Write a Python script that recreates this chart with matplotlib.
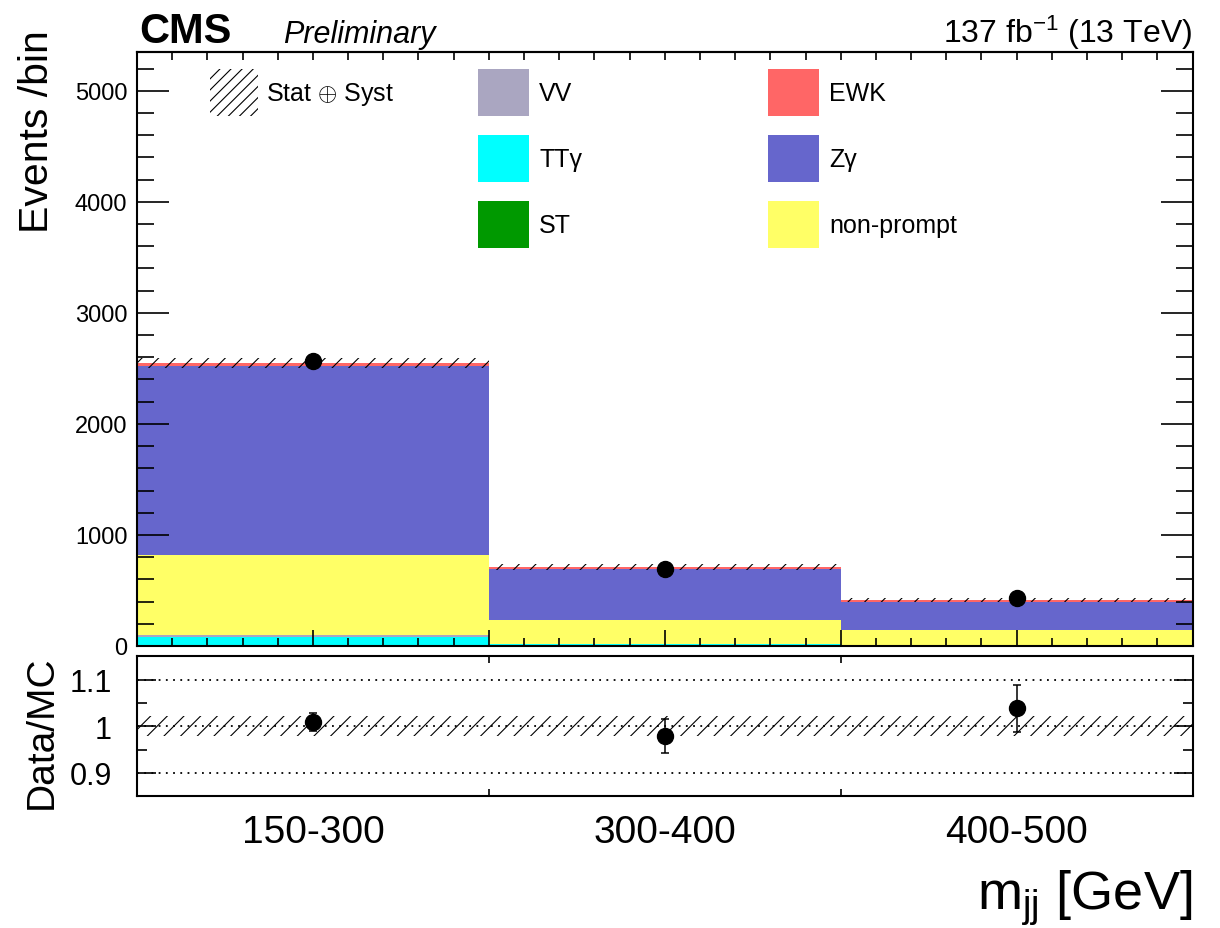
import matplotlib
matplotlib.use("Agg")
import matplotlib.pyplot as plt
from matplotlib.patches import Patch
import numpy as np

plt.rcParams['font.family'] = ['Liberation Sans', 'DejaVu Sans']
plt.rcParams['mathtext.fontset'] = 'custom'
plt.rcParams['mathtext.rm'] = 'Liberation Sans'
plt.rcParams['mathtext.it'] = 'Liberation Sans:italic'
plt.rcParams['mathtext.bf'] = 'Liberation Sans:bold'
plt.rcParams['hatch.linewidth'] = 0.8

# m_jj bins and stacked yields (events / bin)
bins = ['150-300', '300-400', '400-500']
st = [4, 2, 1]
ttg = [76, 14, 8]
vv = [20, 4, 3]
nonprompt = [717, 211, 134]
zg = [1700, 458, 250]
ewk = [28, 23, 19]
data = [2568, 697, 431]
mc_unc = [45, 24, 21]
ratio_unc = [0.021, 0.021, 0.021]

# stack order bottom -> top
stack = [
    ('ST', st, '#009900'),
    ('TTg', ttg, '#00ffff'),
    ('VV', vv, '#aaa6c1'),
    ('non-prompt', nonprompt, '#ffff66'),
    ('Zg', zg, '#6666cc'),
    ('EWK', ewk, '#ff6666'),
]


def main():
    fig = plt.figure(figsize=(12.2, 9.29), dpi=100)
    ax = fig.add_axes([0.1123, 0.3036, 0.8652, 0.6394])
    axr = fig.add_axes([0.1123, 0.1418, 0.8652, 0.1507])

    x = np.arange(len(bins))
    bottom = np.zeros(len(bins))
    handles = {}
    for name, vals, col in stack:
        vals = np.array(vals, dtype=float)
        ax.bar(x, vals, width=1.0, bottom=bottom, color=col, linewidth=0, zorder=1)
        handles[name] = Patch(facecolor=col, edgecolor='none')
        bottom = bottom + vals
    total = bottom

    unc = np.array(mc_unc, dtype=float)
    ax.bar(x, 2 * unc, width=1.0, bottom=total - unc, facecolor='none',
           edgecolor='black', hatch='//', linewidth=0, zorder=2)

    d = np.array(data, dtype=float)
    ax.errorbar(x, d, yerr=np.sqrt(d), fmt='o', color='black', markersize=11.5,
                elinewidth=1.1, capsize=0, zorder=4)

    ax.set_xlim(-0.5, 2.5)
    ax.set_ylim(0, 5350)
    ax.set_xticks(np.arange(-0.5, 2.51, 0.5))
    ax.set_xticks(np.arange(-0.5, 2.51, 0.1), minor=True)
    ax.set_yticks(np.arange(0, 5001, 1000))
    ax.set_yticks(np.arange(0, 5351, 200), minor=True)
    ax.tick_params(axis='x', which='major', direction='in', length=11.5, width=1.2,
                   labelbottom=False, bottom=True, top=False)
    ax.tick_params(axis='x', which='minor', direction='in', length=5.8, width=1.2,
                   bottom=True, top=False)
    ax.tick_params(axis='y', which='major', direction='in', length=23, width=1.2,
                   left=True, right=True, labelsize=17, pad=7)
    ax.tick_params(axis='y', which='minor', direction='in', length=12, width=1.2,
                   left=True, right=True)
    top = ax.secondary_xaxis('top')
    top.set_xticks(np.arange(-0.5, 2.51, 0.1))
    top.tick_params(direction='in', length=5.8, width=1.2, labeltop=False)
    top.spines['top'].set_linewidth(1.5)
    for s in ax.spines.values():
        s.set_linewidth(1.5)

    # legend: three blocks
    unc_h = Patch(facecolor='none', edgecolor='black', hatch='///', linewidth=0)
    legkw = dict(loc='upper left', frameon=False, fontsize=18, borderpad=0,
                 borderaxespad=0, handlelength=2.04, handleheight=2.515,
                 labelspacing=0.76, handletextpad=0.4)
    kw1 = dict(legkw, handlelength=1.92, handletextpad=0.3)
    l1 = ax.legend([unc_h], ['Stat $\\oplus$ Syst'], bbox_to_anchor=(0.0692, 0.9714), **kw1)
    ax.add_artist(l1)
    l2 = ax.legend([handles['VV'], handles['TTg'], handles['ST']],
                   ['VV', 'TT\u03b3', 'ST'], bbox_to_anchor=(0.3233, 0.9714), **legkw)
    ax.add_artist(l2)
    ax.legend([handles['EWK'], handles['Zg'], handles['non-prompt']],
              ['EWK', 'Z\u03b3', 'non-prompt'], bbox_to_anchor=(0.5982, 0.9714), **legkw)

    # ratio panel
    ratio = d / total
    rerr = np.sqrt(d) / total
    runc = np.array(ratio_unc)
    axr.bar(x, 2 * runc, width=1.0, bottom=1 - runc, facecolor='none',
            edgecolor='black', hatch='//', linewidth=0, zorder=2)
    for yl in [0.9, 1.0, 1.1]:
        axr.axhline(yl, color='black', linestyle=(0, (1, 3)), linewidth=1.3, zorder=1)
    axr.errorbar(x, ratio, yerr=rerr, fmt='o', color='black', markersize=11.5,
                 elinewidth=1.1, capsize=3, capthick=1.1, zorder=4)
    axr.set_xlim(-0.5, 2.5)
    axr.set_ylim(0.85, 1.15)
    axr.set_xticks(x)
    axr.set_xticklabels(bins, fontsize=28)
    axr.set_xticks([0.5, 1.5], minor=True)
    axr.tick_params(axis='x', which='major', length=0, pad=13)
    axr.tick_params(axis='x', which='minor', direction='in', length=5, width=1.2,
                    top=True, bottom=True)
    axr.set_yticks([0.9, 1.0, 1.1])
    axr.set_yticklabels(['0.9', '1', '1.1'])
    axr.set_yticks([0.95, 1.05], minor=True)
    axr.tick_params(axis='y', which='major', direction='in', length=14, width=1.2,
                    left=True, right=True, labelsize=22, pad=18)
    axr.tick_params(axis='y', which='minor', direction='in', length=7, width=1.2,
                    left=True, right=True)
    for s in axr.spines.values():
        s.set_linewidth(1.5)

    # labels and header
    fig.text(37 / 1220, 1 - 30 / 929, 'Events /bin', rotation=90, ha='center', va='top',
             fontsize=29.5)
    fig.text(42 / 1220, 1 - 732 / 929, 'Data/MC', rotation=90, ha='center', va='center',
             fontsize=28)
    fig.text(1192 / 1220, 1 - 910 / 929, 'm$_{\\mathregular{jj}}$ [GeV]', ha='right',
             va='baseline', fontsize=39)
    fig.text(139 / 1220, 1 - 43 / 929, 'CMS', ha='left', va='baseline', fontsize=30,
             fontweight='bold')
    fig.text(283 / 1220, 1 - 43 / 929, 'Preliminary', ha='left', va='baseline',
             fontsize=22, fontstyle='italic')
    fig.text(1192 / 1220, 1 - 43 / 929, '137 fb$^{-1}$ (13 TeV)', ha='right',
             va='baseline', fontsize=23)

    fig.savefig('out.png', dpi=100)


if __name__ == "__main__":
    main()
